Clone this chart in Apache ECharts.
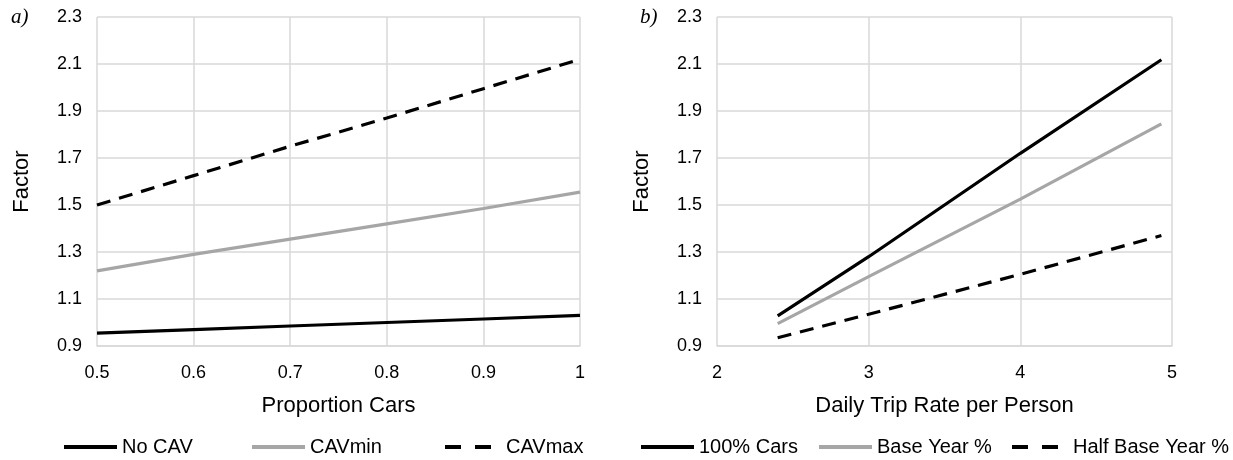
<!DOCTYPE html>
<html><head><meta charset="utf-8">
<script src="https://cdn.jsdelivr.net/npm/echarts@6/dist/echarts.min.js"></script>
<style>html,body{margin:0;padding:0;background:#fff}#c{width:1233px;height:460px}</style>
</head><body><div id="c"></div>
<script>
const xA = [0.5, 0.6, 0.7, 0.8, 0.9, 1.0];
const noCav = [0.955, 0.97, 0.985, 1.0, 1.015, 1.03];
const cavMin = [1.22, 1.29, 1.355, 1.42, 1.485, 1.555];
const cavMax = [1.50, 1.625, 1.75, 1.87, 1.995, 2.12];
const xB = [2.4, 3, 4, 4.93];
const cars100 = [1.028, 1.28, 1.72, 2.118];
const baseYear = [0.995, 1.195, 1.525, 1.845];
const halfBase = [0.935, 1.035, 1.205, 1.37];
const namesA = ['No CAV', 'CAVmin', 'CAVmax'];
const namesB = ['100% Cars', 'Base Year %', 'Half Base Year %'];

const FONT = 'Liberation Sans, Arial, sans-serif';
const pairs = (xs, ys) => xs.map((x, i) => [x, ys[i]]);
const styles = [
  {color: '#000000', type: 'solid'},
  {color: '#a6a6a6', type: 'solid'},
  {color: '#000000', type: [14, 9]}
];
function mkSeries(name, xs, ys, idx, st) {
  return {
    name, type: 'line', xAxisIndex: idx, yAxisIndex: idx, data: pairs(xs, ys),
    showSymbol: false, symbol: 'none', smooth: false,
    lineStyle: {color: st.color, width: 3.2, type: st.type},
    itemStyle: {color: st.color}
  };
}
const grid = [
  {left: 97, right: 653, top: 17, bottom: 114},
  {left: 717, right: 61, top: 17, bottom: 114}
];
function yAx(gi) {
  return {
    type: 'value', gridIndex: gi, min: 0.9, max: 2.3, interval: 0.2,
    name: 'Factor', nameLocation: 'middle', nameGap: 64,
    nameTextStyle: {fontFamily: FONT, fontSize: 22, color: '#000'},
    axisLine: {show: false}, axisTick: {show: false},
    axisLabel: {fontFamily: FONT, fontSize: 18, color: '#000', margin: 15,
      formatter: v => v.toFixed(1)},
    splitLine: {show: true, lineStyle: {color: '#d9d9d9', width: 1.5}}
  };
}
function xAx(gi, name, min, max, interval) {
  return {
    type: 'value', gridIndex: gi, min, max, interval,
    name, nameLocation: 'middle', nameGap: 49,
    nameTextStyle: {fontFamily: FONT, fontSize: 22, color: '#000'},
    axisLine: {show: true, lineStyle: {color: '#d9d9d9', width: 1.5}},
    axisTick: {show: false},
    axisLabel: {fontFamily: FONT, fontSize: 18, color: '#000', margin: 18,
      formatter: v => String(Math.round(v * 10) / 10)},
    splitLine: {show: true, lineStyle: {color: '#d9d9d9', width: 1.5}}
  };
}
const legendPos = [57, 245, 438, 634, 812, 1005];
const legends = namesA.concat(namesB).map((n, i) => {
  const dashed = (i % 3) === 2;
  return {
    data: [n], left: legendPos[i], top: 432,
    itemWidth: dashed ? 56 : 53, itemHeight: 16,
    itemStyle: {opacity: 0},
    lineStyle: dashed ? {width: 4, type: [16, 14]} : {width: 4},
    textStyle: {fontFamily: FONT, fontSize: 20, color: '#000'},
    selectedMode: false
  };
});
const option = {
  animation: false,
  backgroundColor: '#fff',
  grid,
  xAxis: [xAx(0, 'Proportion Cars', 0.5, 1, 0.1), xAx(1, 'Daily Trip Rate per Person', 2, 5, 1)],
  yAxis: [yAx(0), yAx(1)],
  legend: legends,
  graphic: [
    {type: 'text', left: 11, top: 7, style: {text: 'a)', font: 'italic 21px "Liberation Serif", serif', fill: '#000'}},
    {type: 'text', left: 640, top: 7, style: {text: 'b)', font: 'italic 21px "Liberation Serif", serif', fill: '#000'}}
  ],
  series: [
    mkSeries(namesA[0], xA, noCav, 0, styles[0]),
    mkSeries(namesA[1], xA, cavMin, 0, styles[1]),
    mkSeries(namesA[2], xA, cavMax, 0, styles[2]),
    mkSeries(namesB[0], xB, cars100, 1, styles[0]),
    mkSeries(namesB[1], xB, baseYear, 1, styles[1]),
    mkSeries(namesB[2], xB, halfBase, 1, styles[2])
  ]
};
echarts.init(document.getElementById('c')).setOption(option);
</script></body></html>
